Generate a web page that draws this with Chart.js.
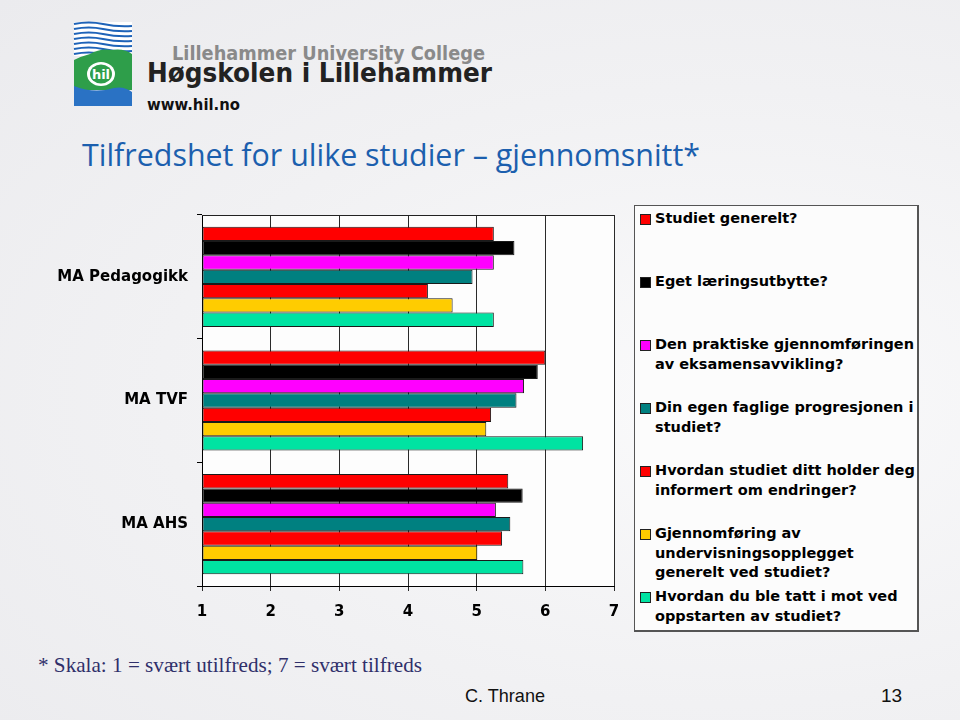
<!DOCTYPE html>
<html>
<head>
<meta charset="utf-8">
<script src="https://cdn.jsdelivr.net/npm/chart.js@4/dist/chart.umd.min.js"></script>
<style>
  body { margin: 0; }
  #page {
    position: relative; width: 960px; height: 720px; overflow: hidden;
    background: radial-gradient(ellipse at 75% 55%, #fafafb 0%, #f1f1f3 55%, #ebebee 100%);
    font-family: "DejaVu Sans", Verdana, sans-serif;
  }
  #deco { position: absolute; left: 0; top: 0; }
  #chart { position: absolute; left: 0; top: 195px; }
  #legend {
    position: absolute; left: 634px; top: 205px; width: 285px; height: 427px;
    background: #fcfcfc; border: 1px solid #555; border-right-width: 2px; border-bottom-width: 2px; box-sizing: border-box;
  }
  .item { position: absolute; left: 5px; width: 264px; font: bold 14.5px "DejaVu Sans", Verdana, sans-serif; line-height: 19.5px; color: #000; padding-left: 15px; }
  .item span.sw { position: absolute; left: 0; top: 5px; width: 9px; height: 9px; border: 1px solid #222; }
</style>
</head>
<body>
<div id="page">
  <svg id="deco" width="960" height="720">
    <!-- logo -->
    <g>
      <rect x="74" y="22" width="58" height="34" fill="#fff"/>
      <path d="M74 24 q15 -3 29 0 t29 2" stroke="#1e63b8" stroke-width="2.2" fill="none"/>
      <path d="M74 29 q15 -3 29 0 t29 2" stroke="#1e63b8" stroke-width="2.2" fill="none"/>
      <path d="M74 34 q15 -3 29 0 t29 2" stroke="#1e63b8" stroke-width="2.2" fill="none"/>
      <path d="M74 39 q15 -3 29 0 t29 2" stroke="#1e63b8" stroke-width="2.2" fill="none"/>
      <path d="M74 44 q15 -3 29 0 t29 2" stroke="#1e63b8" stroke-width="2.2" fill="none"/>
      <path d="M74 49 q15 -3 29 0 t29 2" stroke="#1e63b8" stroke-width="2.2" fill="none"/>
      <path d="M74 54 q15 -3 29 0 t29 2" stroke="#1e63b8" stroke-width="2.2" fill="none"/>
      <path d="M74 90 L74 60 q8 -4 16 -6 q10 -6 22 -4 q12 -2 20 4 L132 90 Z" fill="#2e9e4a"/>
      <path d="M74 86 q20 8 40 2 q10 -2 18 4 L132 106 L74 106 Z" fill="#2a72c4"/>
      <ellipse cx="101" cy="74" rx="14" ry="12" fill="#fff"/>
      <ellipse cx="101" cy="74" rx="11" ry="9.5" fill="#2e9e4a"/>
      <text x="101" y="79" text-anchor="middle" font-family="DejaVu Sans" font-weight="bold" font-size="13" fill="#fff">hil</text>
    </g>
    <text x="172" y="60" font-family="DejaVu Sans" font-weight="bold" font-size="19" fill="#8a8a8a" textLength="313" lengthAdjust="spacingAndGlyphs">Lillehammer University College</text>
    <text x="147" y="82" font-family="DejaVu Sans" font-weight="bold" font-size="26" fill="#222" textLength="345" lengthAdjust="spacingAndGlyphs">Høgskolen i Lillehammer</text>
    <text x="147" y="110" font-family="DejaVu Sans" font-weight="bold" font-size="15" fill="#111" textLength="93" lengthAdjust="spacingAndGlyphs">www.hil.no</text>
    <text x="82" y="166" font-family="Open Sans, DejaVu Sans" font-size="31" fill="#1c5fae" textLength="618" lengthAdjust="spacingAndGlyphs">Tilfredshet for ulike studier – gjennomsnitt*</text>
    <text x="38" y="672" font-family="Liberation Serif" font-size="21" fill="#2f2f6a" textLength="384" lengthAdjust="spacingAndGlyphs">* Skala: 1 = svært utilfreds; 7 = svært tilfreds</text>
    <text x="465" y="702" font-family="Liberation Sans" font-size="19" fill="#111" textLength="80" lengthAdjust="spacingAndGlyphs">C. Thrane</text>
    <text x="881" y="702" font-family="Liberation Sans" font-size="19" fill="#111">13</text>
  </svg>
  <canvas id="chart" width="625" height="440"></canvas>
  <div id="legend"></div>
</div>
<script>
// Data
var studier = ['MA Pedagogikk', 'MA TVF', 'MA AHS']
var sporsmal = [
  'Studiet generelt?',
  'Eget læringsutbytte?',
  'Den praktiske gjennomføringen av eksamensavvikling?',
  'Din egen faglige progresjonen i studiet?',
  'Hvordan studiet ditt holder deg informert om endringer?',
  'Gjennomføring av undervisningsopplegget generelt ved studiet?',
  'Hvordan du ble tatt i mot ved oppstarten av studiet?'
]
var generelt    = [5.25, 6.0, 5.46]
var utbytte     = [5.55, 5.89, 5.67]
var eksamen     = [5.25, 5.69, 5.28]
var progresjon  = [4.94, 5.58, 5.49]
var informert   = [4.29, 5.21, 5.37]
var undervisning = [4.65, 5.14, 5.01]
var mottak      = [5.25, 6.55, 5.68]
var skala = [1, 2, 3, 4, 5, 6, 7]

var verdier = [generelt, utbytte, eksamen, progresjon, informert, undervisning, mottak]
var farger = ['#ff0000', '#000000', '#ff00ff', '#008080', '#ff0000', '#ffcc00', '#00e3a2']

var datasets = []
for (let i = 0; i < verdier.length; i++) {
    datasets.push({
        label: sporsmal[i],
        data: verdier[i],
        base: skala[0],
        backgroundColor: farger[i],
        borderColor: '#1a1a1a',
        borderWidth: 1,
        borderSkipped: false,
        categoryPercentage: 0.81,
        barPercentage: 1
    })
}

// plot area background and frame
var ramme = {
    id: 'ramme',
    beforeDraw(chart) {
        var a = chart.chartArea, c = chart.ctx
        c.save()
        c.fillStyle = '#fdfdfd'
        c.fillRect(a.left, a.top, a.right - a.left, a.bottom - a.top)
        c.restore()
    },
    afterDraw(chart) {
        var a = chart.chartArea, c = chart.ctx
        c.save()
        c.strokeStyle = '#222'
        c.lineWidth = 1
        c.beginPath()
        c.moveTo(a.left, a.top + 0.5)
        c.lineTo(a.right, a.top + 0.5)
        c.stroke()
        c.restore()
    }
}

var ctx = document.getElementById('chart').getContext('2d')
var myChart = new Chart(ctx, {
    type: 'bar',
    data: { labels: studier, datasets: datasets },
    plugins: [ramme],
    options: {
        indexAxis: 'y',
        responsive: false,
        animation: false,
        layout: { padding: { top: 20, right: 11, left: 0, bottom: 0 } },
        plugins: { legend: { display: false }, tooltip: { enabled: false } },
        scales: {
            x: {
                min: skala[0], max: skala[skala.length - 1],
                ticks: { stepSize: 1, color: '#000', padding: 12, font: { family: 'DejaVu Sans', weight: 'bold', size: 15 } },
                grid: { color: '#2a2a2a', tickLength: 5 },
                border: { color: '#000' },
                afterFit: function (s) { s.height = 49; s.paddingLeft = 0; s.paddingRight = 0 }
            },
            y: {
                ticks: { color: '#000', padding: 9, font: { family: 'DejaVu Sans', weight: 'bold', size: 15 } },
                grid: { drawOnChartArea: false, tickLength: 5, color: '#000' },
                border: { color: '#000' },
                afterFit: function (s) { s.width = 202 }
            }
        }
    }
})

// Legend
var leg = document.getElementById('legend')
for (let i = 0; i < sporsmal.length; i++) {
    var d = document.createElement('div')
    d.className = 'item'
    d.style.top = (3 + i * 63) + 'px'
    d.innerHTML = '<span class="sw" style="background:' + farger[i] + '"></span>' + sporsmal[i]
    leg.appendChild(d)
}
</script>
</body>
</html>
